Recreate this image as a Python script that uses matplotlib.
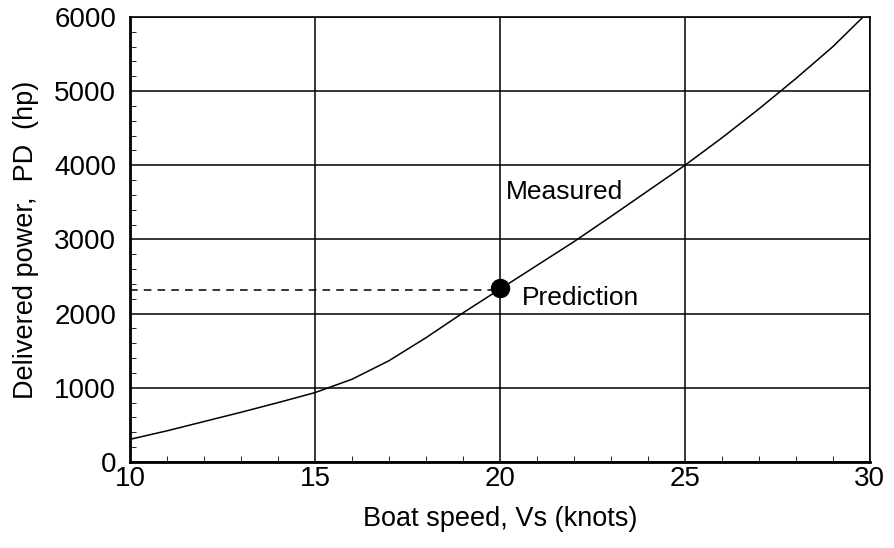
import numpy as np
import matplotlib.pyplot as plt
from matplotlib.ticker import MultipleLocator

plt.rcParams['font.family'] = ['Liberation Sans', 'DejaVu Sans']

# measured delivered power curve
speed = np.array([10, 11, 12, 13, 14, 15, 16, 17, 18, 19, 20,
                  21, 22, 23, 24, 25, 26, 27, 28, 29, 30])
power = np.array([305, 420, 545, 670, 800, 935, 1115, 1365, 1675, 2010, 2330,
                  2650, 2970, 3310, 3655, 4000, 4370, 4760, 5170, 5600, 6090])

# prediction point
pred_speed = 20
pred_power = 2340
pred_dash_level = 2315

fig = plt.figure(figsize=(8.94, 5.48), dpi=100)
ax = fig.add_axes([0.1454, 0.157, 0.8276, 0.812])

ax.plot(speed, power, color='black', lw=1.1)
ax.plot([10, pred_speed], [pred_dash_level, pred_dash_level], color='black',
        ls='--', lw=1.1, dashes=(5, 4))
ax.plot(pred_speed, pred_power, 'o', color='black', ms=13)

ax.text(20.15, 3640, 'Measured', fontsize=19, va='center')
ax.text(20.6, 2210, 'Prediction', fontsize=19, va='center')

ax.set_xlim(10, 30)
ax.set_ylim(0, 6000)
ax.xaxis.set_major_locator(MultipleLocator(5))
ax.xaxis.set_minor_locator(MultipleLocator(1))
ax.yaxis.set_major_locator(MultipleLocator(1000))
ax.yaxis.set_minor_locator(MultipleLocator(200))
ax.tick_params(which='both', direction='in', labelsize=20)
ax.tick_params(which='major', length=0)
ax.tick_params(axis='x', which='major', pad=3)
ax.tick_params(axis='y', which='major', pad=10)
ax.tick_params(which='minor', length=4)
ax.grid(True, which='major', color='black', lw=1.1)

for s in ax.spines.values():
    s.set_linewidth(1.2)
ax.spines['left'].set_linewidth(2)
ax.spines['bottom'].set_linewidth(2)

ax.set_xlabel('Boat speed, Vs (knots)', fontsize=19.5, labelpad=10)
ax.set_ylabel('Delivered power,  PD  (hp)', fontsize=19.5, labelpad=11)

fig.savefig('out.png', dpi=100)
